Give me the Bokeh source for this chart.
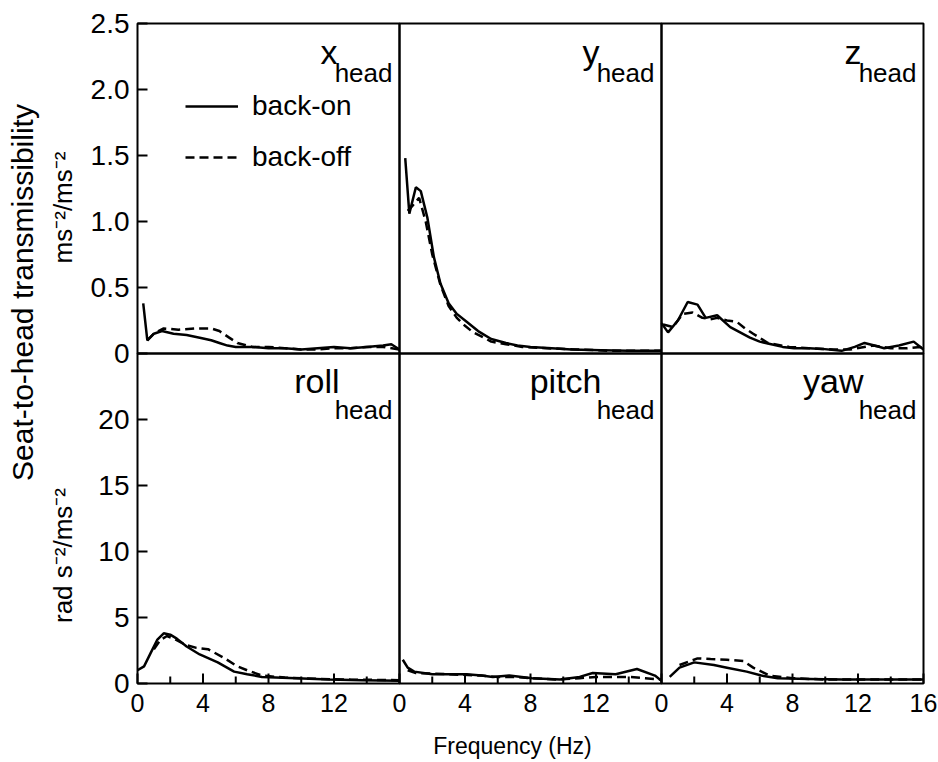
from bokeh.plotting import figure
from bokeh.models import Range1d, Label, Legend, LegendItem, BoxAnnotation
from bokeh.core.properties import value
from bokeh.embed import file_html
from bokeh.resources import INLINE

# ---------------- data ----------------
# top row: translational transmissibility (ms^-2/ms^-2)
x_on_f = [0.35, 0.6, 1.0, 1.5, 2.2, 3.0, 3.8, 4.5, 5.0, 5.5, 6.0, 7.0, 8.0, 9.0, 10.0, 11.0, 12.0, 13.0, 14.0, 15.0, 15.5, 16.0]
x_on_v = [0.38, 0.10, 0.15, 0.17, 0.15, 0.14, 0.12, 0.10, 0.08, 0.06, 0.05, 0.05, 0.04, 0.04, 0.03, 0.04, 0.05, 0.04, 0.05, 0.06, 0.07, 0.03]
x_off_f = [0.6, 1.0, 1.6, 2.5, 3.5, 4.5, 5.0, 5.6, 6.1, 7.0, 8.0, 9.0, 10.0, 11.0, 12.0, 13.0, 14.0, 15.0, 16.0]
x_off_v = [0.10, 0.15, 0.19, 0.18, 0.19, 0.19, 0.17, 0.12, 0.08, 0.05, 0.05, 0.04, 0.03, 0.03, 0.04, 0.04, 0.05, 0.05, 0.03]

y_on_f = [0.35, 0.6, 1.0, 1.3, 1.7, 2.1, 2.5, 3.0, 3.5, 4.1, 4.8, 5.6, 6.5, 7.2, 8.0, 9.3, 10.5, 12.3, 14.0, 16.0]
y_on_v = [1.48, 1.06, 1.26, 1.23, 1.03, 0.73, 0.53, 0.38, 0.30, 0.24, 0.17, 0.11, 0.08, 0.06, 0.05, 0.04, 0.03, 0.025, 0.02, 0.02]
y_off_f = [0.5, 0.8, 1.2, 1.6, 2.0, 2.5, 3.0, 3.5, 4.0, 4.5, 5.0, 5.6, 6.5, 7.5, 9.0, 11.0, 13.0, 16.0]
y_off_v = [1.08, 1.12, 1.18, 1.00, 0.75, 0.52, 0.36, 0.27, 0.21, 0.16, 0.13, 0.09, 0.07, 0.05, 0.04, 0.03, 0.02, 0.02]

z_on_f = [0.0, 0.4, 1.0, 1.6, 2.2, 2.7, 3.4, 4.2, 4.8, 5.4, 6.0, 6.7, 7.4, 8.1, 9.0, 9.8, 11.0, 11.8, 12.4, 13.0, 13.6, 14.5, 15.4, 16.0]
z_on_v = [0.23, 0.16, 0.25, 0.39, 0.37, 0.27, 0.29, 0.20, 0.16, 0.12, 0.09, 0.07, 0.05, 0.04, 0.04, 0.035, 0.02, 0.05, 0.08, 0.06, 0.04, 0.06, 0.09, 0.03]
z_off_f = [0.1, 0.7, 1.3, 1.9, 2.5, 3.0, 3.4, 4.0, 4.6, 5.1, 5.6, 6.5, 7.8, 9.0, 10.5, 11.5, 12.9, 14.0, 15.0, 15.8, 16.0]
z_off_v = [0.22, 0.20, 0.30, 0.31, 0.27, 0.26, 0.27, 0.25, 0.24, 0.19, 0.15, 0.08, 0.05, 0.04, 0.03, 0.03, 0.06, 0.04, 0.04, 0.05, 0.03]

# bottom row: rotational transmissibility (rad s^-2/ms^-2)
roll_on_f = [0.0, 0.4, 0.8, 1.2, 1.6, 2.0, 2.4, 3.0, 3.8, 4.9, 5.9, 6.7, 7.6, 9.7, 11.7, 13.7, 16.0]
roll_on_v = [1.0, 1.3, 2.3, 3.3, 3.8, 3.7, 3.4, 2.8, 2.2, 1.6, 0.9, 0.7, 0.5, 0.4, 0.3, 0.25, 0.2]
roll_off_f = [1.0, 1.4, 1.8, 2.2, 3.0, 3.6, 4.3, 5.2, 6.1, 6.7, 7.6, 9.0, 11.0, 13.0, 16.0]
roll_off_v = [2.6, 3.3, 3.6, 3.4, 2.9, 2.7, 2.6, 2.0, 1.3, 1.0, 0.6, 0.45, 0.35, 0.3, 0.25]

pitch_on_f = [0.2, 0.5, 0.9, 2.0, 4.1, 5.0, 5.7, 6.7, 8.1, 9.8, 11.0, 11.8, 13.2, 14.5, 15.6, 16.0]
pitch_on_v = [1.8, 1.2, 0.9, 0.7, 0.7, 0.6, 0.5, 0.6, 0.4, 0.3, 0.5, 0.8, 0.7, 1.1, 0.6, 0.2]
pitch_off_f = [0.5, 1.0, 3.0, 5.0, 6.0, 7.0, 8.0, 9.5, 11.0, 12.0, 13.0, 14.0, 15.0, 16.0]
pitch_off_v = [1.0, 0.8, 0.7, 0.6, 0.5, 0.5, 0.4, 0.3, 0.4, 0.5, 0.5, 0.5, 0.4, 0.3]

yaw_on_f = [0.5, 1.1, 2.0, 3.2, 4.0, 5.2, 6.1, 7.1, 9.0, 11.0, 13.0, 16.0]
yaw_on_v = [0.5, 1.2, 1.6, 1.4, 1.2, 0.9, 0.6, 0.4, 0.35, 0.3, 0.3, 0.3]
yaw_off_f = [1.1, 2.2, 3.0, 4.0, 5.0, 5.6, 6.6, 8.0, 10.0, 12.0, 14.0, 16.0]
yaw_off_v = [1.4, 1.9, 1.85, 1.8, 1.7, 1.2, 0.6, 0.4, 0.3, 0.3, 0.3, 0.3]

panel_names = [["x", "y", "z"], ["roll", "pitch", "yaw"]]
series = {
    "x": (x_on_f, x_on_v, x_off_f, x_off_v),
    "y": (y_on_f, y_on_v, y_off_f, y_off_v),
    "z": (z_on_f, z_on_v, z_off_f, z_off_v),
    "roll": (roll_on_f, roll_on_v, roll_off_f, roll_off_v),
    "pitch": (pitch_on_f, pitch_on_v, pitch_off_f, pitch_off_v),
    "yaw": (yaw_on_f, yaw_on_v, yaw_off_f, yaw_off_v),
}
top_ticks = [0, 0.5, 1.0, 1.5, 2.0, 2.5]
top_tick_labels = ["0", "0.5", "1.0", "1.5", "2.0", "2.5"]
bottom_ticks = [0, 5, 10, 15, 20]
bottom_tick_labels = ["0", "5", "10", "15", "20"]
freq_ticks = [0, 4, 8, 12]
freq_tick_labels = ["0", "4", "8", "12"]
freq_ticks_last = [0, 4, 8, 12, 16]
freq_tick_labels_last = ["0", "4", "8", "12", "16"]
freq_minor = [2, 6, 10, 14]
legend_labels = ["back-on", "back-off"]
title_text = "Seat-to-head transmissibility"
top_unit = "ms\u207b\u00b2/ms\u207b\u00b2"
bottom_unit = "rad s\u207b\u00b2/ms\u207b\u00b2"
freq_label = "Frequency (Hz)"

F_MAX = 16.0
Y_MAX = [2.5, 25.0]

# ---------------- layout (pixels) ----------------
W, H = 938, 760
LEFT, PW = 137, 262      # left edge of first panel, panel width
TOP, PH = 23, 330        # top edge of first row, panel height
FONT_NAME = "Liberation Sans"
FONT = value(FONT_NAME)
LW = 2.5

p = figure(width=W, height=H, output_backend="svg", toolbar_location=None,
           x_range=Range1d(0, 1), y_range=Range1d(0, 1),
           x_axis_location=None, y_axis_location=None, min_border=0)
p.outline_line_color = None
p.background_fill_color = "white"
p.border_fill_color = "white"
p.xgrid.visible = False
p.ygrid.visible = False

# one frequency range per panel column, one value range per panel row,
# placed so that each panel occupies its own block of the canvas
KX = PW / F_MAX
x_ranges = {}
for c in range(3):
    left_px = LEFT + c * PW
    x_ranges["c%d" % c] = Range1d(-left_px / KX, (W - left_px) / KX)
y_ranges = {}
KY = []
for r in range(2):
    ky = PH / Y_MAX[r]
    KY.append(ky)
    base_px = TOP + (r + 1) * PH
    y_ranges["r%d" % r] = Range1d(-(H - base_px) / ky, base_px / ky)
p.extra_x_ranges = x_ranges
p.extra_y_ranges = y_ranges

legend_renderers = None
for r in range(2):
    for c in range(3):
        xr, yr = "c%d" % c, "r%d" % r
        name = panel_names[r][c]
        ymax = Y_MAX[r]
        # panel frame
        p.add_layout(BoxAnnotation(left=0, right=F_MAX, bottom=0, top=ymax,
                                   x_range_name=xr, y_range_name=yr,
                                   fill_color=None, fill_alpha=0,
                                   line_color="black", line_alpha=1.0, line_width=2))
        on_f, on_v, off_f, off_v = series[name]
        r_on = p.line(on_f, on_v, line_color="black", line_width=LW,
                      x_range_name=xr, y_range_name=yr)
        r_off = p.line(off_f, off_v, line_color="black", line_width=LW, line_dash="9 5",
                       x_range_name=xr, y_range_name=yr)
        if r == 0 and c == 0:
            legend_renderers = (r_on, r_off)

        # panel title: name with "head" as subscript
        main_off = -28 if r == 0 else -27
        head_off = -49 if r == 0 else -56
        p.add_layout(Label(x=F_MAX, y=ymax, x_range_name=xr, y_range_name=yr,
                           x_offset=-62 if r == 0 else -60, y_offset=main_off,
                           text=name, text_align="right", text_baseline="alphabetic",
                           text_font=FONT_NAME, text_font_size="34px", text_color="black"))
        p.add_layout(Label(x=F_MAX, y=ymax, x_range_name=xr, y_range_name=yr,
                           x_offset=-7, y_offset=head_off,
                           text="head", text_align="right", text_baseline="alphabetic",
                           text_font=FONT_NAME, text_font_size="26px", text_color="black"))

        # value ticks + labels on the left column
        if c == 0:
            ticks = top_ticks if r == 0 else bottom_ticks
            labels = top_tick_labels if r == 0 else bottom_tick_labels
            p.segment(x0=[0] * len(ticks), y0=ticks, x1=[10 / KX] * len(ticks), y1=ticks,
                      line_color="black", line_width=2, x_range_name=xr, y_range_name=yr)
            p.text(x=[0] * len(ticks), y=ticks, text=labels, x_offset=-8,
                   text_align="right", text_baseline="middle",
                   text_font=FONT, text_font_size="28px", text_color="black",
                   x_range_name=xr, y_range_name=yr)
        # frequency ticks + labels on the bottom row
        if r == 1:
            ft = freq_ticks_last if c == 2 else freq_ticks
            fl = freq_tick_labels_last if c == 2 else freq_tick_labels
            ky = KY[r]
            p.segment(x0=ft, y0=[0] * len(ft), x1=ft, y1=[10 / ky] * len(ft),
                      line_color="black", line_width=2, x_range_name=xr, y_range_name=yr)
            p.segment(x0=freq_minor, y0=[0] * len(freq_minor), x1=freq_minor,
                      y1=[7 / ky] * len(freq_minor),
                      line_color="black", line_width=2, x_range_name=xr, y_range_name=yr)
            p.text(x=ft, y=[0] * len(ft), text=fl, y_offset=10,
                   text_align="center", text_baseline="top",
                   text_font=FONT, text_font_size="25px", text_color="black",
                   x_range_name=xr, y_range_name=yr)

# axis titles
p.add_layout(Label(x=512, y=H - 745, x_units="screen", y_units="screen",
                   text=freq_label, text_align="center", text_baseline="middle",
                   text_font=FONT_NAME, text_font_size="23px", text_color="black"))
p.add_layout(Label(x=22, y=H - 292, x_units="screen", y_units="screen",
                   text=title_text, angle=90, angle_units="deg",
                   text_align="center", text_baseline="middle",
                   text_font=FONT_NAME, text_font_size="30px", text_color="black"))
p.add_layout(Label(x=62, y=H - 207, x_units="screen", y_units="screen",
                   text=top_unit, angle=90, angle_units="deg",
                   text_align="center", text_baseline="middle",
                   text_font=FONT_NAME, text_font_size="26px", text_color="black"))
p.add_layout(Label(x=62, y=H - 555, x_units="screen", y_units="screen",
                   text=bottom_unit, angle=90, angle_units="deg",
                   text_align="center", text_baseline="middle",
                   text_font=FONT_NAME, text_font_size="26px", text_color="black"))

leg = Legend(items=[LegendItem(label=legend_labels[0], renderers=[legend_renderers[0]]),
                    LegendItem(label=legend_labels[1], renderers=[legend_renderers[1]])],
             location=(185, H - 173), orientation="vertical",
             glyph_width=53, glyph_height=28, label_height=28,
             label_standoff=14, spacing=19, padding=0, margin=0,
             border_line_alpha=0, background_fill_alpha=0,
             label_text_font=FONT_NAME, label_text_font_size="28px",
             label_text_color="black")
p.add_layout(leg, "center")

open("out.html", "w").write(file_html(p, INLINE))
